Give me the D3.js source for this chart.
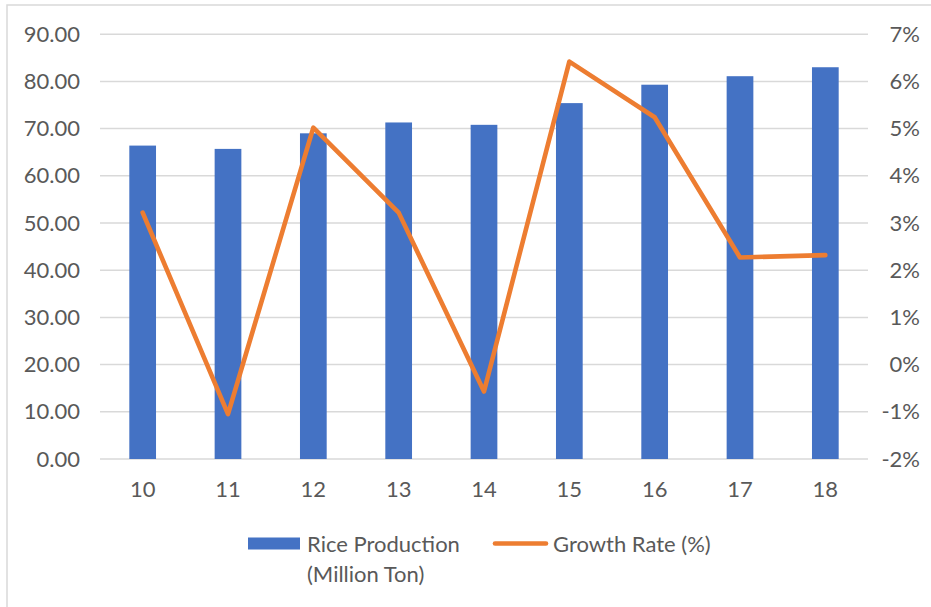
<!DOCTYPE html>
<html>
<head>
<meta charset="utf-8">
<script src="https://cdn.jsdelivr.net/npm/d3@7"></script>
<style>
  html, body { margin: 0; padding: 0; background: #fff; }
  svg { display: block; }
  text { font-family: Lato, "Open Sans", sans-serif; fill: #595959; }
</style>
</head>
<body>
<svg id="chart" width="931" height="607"></svg>
<script>
// Years (two-digit) along the category axis
const years = ["10", "11", "12", "13", "14", "15", "16", "17", "18"];
// Rice production, million tons
const production = [66.4, 65.7, 69.0, 71.3, 70.8, 75.4, 79.3, 81.1, 83.0];
// Year-on-year growth rate, percent
const growth = [3.22, -1.05, 5.02, 3.22, -0.57, 6.42, 5.24, 2.27, 2.32];
// Axis ticks
const leftTicks = [0, 10, 20, 30, 40, 50, 60, 70, 80, 90];
const rightTicks = [-2, -1, 0, 1, 2, 3, 4, 5, 6, 7];
const seriesNames = ["Rice Production", "Growth Rate (%)"];

const svg = d3.select("#chart");
const W = 931, H = 607;
const plot = { left: 100, right: 868, top: 34.2, bottom: 459 };
const FS = 22;

// Outer chart border
svg.append("rect")
  .attr("x", 7).attr("y", 5)
  .attr("width", W).attr("height", H + 10)
  .attr("fill", "none").attr("stroke", "#D9D9D9").attr("stroke-width", 1.5);

const x = d3.scaleBand()
  .domain(years)
  .range([plot.left, plot.right])
  .paddingInner(0.687)
  .paddingOuter(0.3435);

const yL = d3.scaleLinear().domain([0, 90]).range([plot.bottom, plot.top]);
const yR = d3.scaleLinear().domain([-2, 7]).range([plot.bottom, plot.top]);

// Horizontal gridlines
svg.append("g")
  .selectAll("line")
  .data(leftTicks)
  .join("line")
  .attr("x1", plot.left).attr("x2", plot.right)
  .attr("y1", d => yL(d)).attr("y2", d => yL(d))
  .attr("stroke", "#D9D9D9").attr("stroke-width", 1.5);

// Left axis labels
const leftAxis = d3.axisLeft(yL).tickValues(leftTicks)
  .tickFormat(d3.format(".2f")).tickSize(0).tickPadding(0);
svg.append("g")
  .attr("transform", "translate(80,0)")
  .call(leftAxis)
  .call(g => g.select(".domain").remove())
  .call(g => g.selectAll("text")
    .attr("font-family", "Lato, 'Open Sans', sans-serif")
    .attr("font-size", FS).attr("fill", "#595959"));

// Right axis labels
const rightAxis = d3.axisRight(yR).tickValues(rightTicks)
  .tickFormat(d => d + "%").tickSize(0).tickPadding(0);
svg.append("g")
  .attr("transform", "translate(920,0)")
  .call(rightAxis)
  .call(g => g.select(".domain").remove())
  .call(g => g.selectAll("text")
    .attr("text-anchor", "end")
    .attr("font-family", "Lato, 'Open Sans', sans-serif")
    .attr("font-size", FS).attr("fill", "#595959"));

// Category axis labels
const bottomAxis = d3.axisBottom(x).tickSize(0).tickPadding(0);
svg.append("g")
  .attr("transform", `translate(0,${plot.bottom + 22})`)
  .call(bottomAxis)
  .call(g => g.select(".domain").remove())
  .call(g => g.selectAll("text")
    .attr("font-family", "Lato, 'Open Sans', sans-serif")
    .attr("font-size", FS).attr("fill", "#595959"));

// Production bars
svg.append("g")
  .selectAll("rect")
  .data(years)
  .join("rect")
  .attr("x", d => x(d))
  .attr("width", x.bandwidth())
  .attr("y", (d, i) => yL(production[i]))
  .attr("height", (d, i) => yL(0) - yL(production[i]))
  .attr("fill", "#4472C4");

// Growth-rate line
const line = d3.line()
  .x((d, i) => x(years[i]) + x.bandwidth() / 2)
  .y(d => yR(d));
svg.append("path")
  .datum(growth)
  .attr("d", line)
  .attr("fill", "none")
  .attr("stroke", "#ED7D31")
  .attr("stroke-width", 4.6)
  .attr("stroke-linejoin", "round")
  .attr("stroke-linecap", "round");

// Legend
const legend = svg.append("g");
legend.append("rect")
  .attr("x", 248).attr("y", 537.5)
  .attr("width", 52).attr("height", 12)
  .attr("fill", "#4472C4");
const t1 = legend.append("text")
  .attr("x", 307).attr("y", 552)
  .attr("font-size", FS);
t1.append("tspan").attr("x", 307).text(seriesNames[0]);
t1.append("tspan").attr("x", 307).attr("dy", 29.5).text("(Million Ton)");

legend.append("line")
  .attr("x1", 495).attr("x2", 546)
  .attr("y1", 543.5).attr("y2", 543.5)
  .attr("stroke", "#ED7D31").attr("stroke-width", 4.6)
  .attr("stroke-linecap", "round");
legend.append("text")
  .attr("x", 553).attr("y", 552)
  .attr("font-size", FS)
  .text(seriesNames[1]);
</script>
</body>
</html>
